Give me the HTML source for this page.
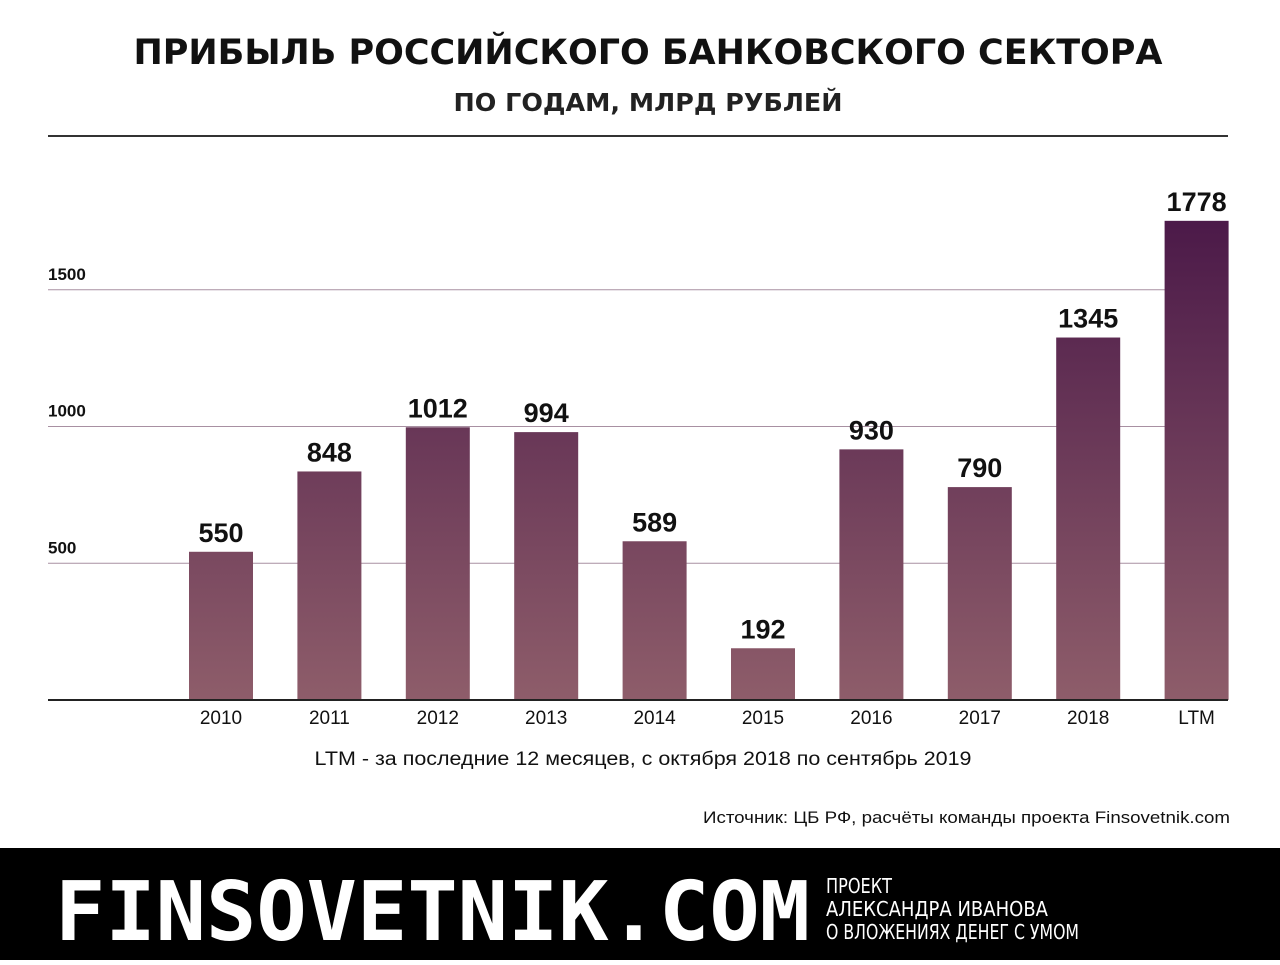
<!DOCTYPE html>
<html><head><meta charset="utf-8"><style>
body{margin:0;width:1280px;height:960px;background:#fff;overflow:hidden;font-family:"Liberation Sans","DejaVu Sans",sans-serif}
</style></head><body>
<svg width="1280" height="960" xmlns="http://www.w3.org/2000/svg">
<defs>
<linearGradient id="g" gradientUnits="userSpaceOnUse" x1="0" y1="210" x2="0" y2="700">
<stop offset="0" stop-color="#4a1848"/><stop offset="1" stop-color="#8e5d6a"/>
</linearGradient>
</defs>
<text x="648" y="64" text-anchor="middle" font-family="DejaVu Sans, sans-serif" font-weight="bold" font-size="35" fill="#111" textLength="1029" lengthAdjust="spacingAndGlyphs">ПРИБЫЛЬ РОССИЙСКОГО БАНКОВСКОГО СЕКТОРА</text>
<text x="648" y="111" text-anchor="middle" font-family="DejaVu Sans, sans-serif" font-weight="bold" font-size="25" fill="#222" textLength="389" lengthAdjust="spacingAndGlyphs">ПО ГОДАМ, МЛРД РУБЛЕЙ</text>
<line x1="48" y1="136" x2="1228" y2="136" stroke="#333" stroke-width="2"/>
<g id="grid"></g>
<g id="bars"></g>
<line x1="48" y1="700" x2="1228" y2="700" stroke="#222" stroke-width="2"/>
<text x="643" y="765" text-anchor="middle" font-size="19" fill="#111" textLength="657" lengthAdjust="spacingAndGlyphs">LTM - за последние 12 месяцев, с октября 2018 по сентябрь 2019</text>
<text x="1230" y="823" text-anchor="end" font-size="17" fill="#111" textLength="527" lengthAdjust="spacingAndGlyphs">Источник: ЦБ РФ, расчёты команды проекта Finsovetnik.com</text>
<rect x="0" y="848" width="1280" height="112" fill="#000"/>
<text x="55" y="940" font-family="DejaVu Sans Mono, monospace" font-weight="bold" font-size="82" fill="#fff" textLength="755" lengthAdjust="spacingAndGlyphs">FINSOVETNIK.COM</text>
<g font-family="DejaVu Sans, sans-serif" font-size="20" fill="#fff">
<text x="826" y="893" textLength="66" lengthAdjust="spacingAndGlyphs">ПРОЕКТ</text>
<text x="826" y="916" textLength="222" lengthAdjust="spacingAndGlyphs">АЛЕКСАНДРА ИВАНОВА</text>
<text x="826" y="939" textLength="253" lengthAdjust="spacingAndGlyphs">О ВЛОЖЕНИЯХ ДЕНЕГ С УМОМ</text>
</g>
</svg>
<script>
const categories=["2010","2011","2012","2013","2014","2015","2016","2017","2018","LTM"];
const values=[550,848,1012,994,589,192,930,790,1345,1778];
const ticks=[500,1000,1500];
const NS="http://www.w3.org/2000/svg";
const y=v=>700-v*0.2735;
const yb=v=>700-v*0.2695;
const xc=i=>221+i*108.4;
const grid=document.getElementById('grid');
ticks.forEach(t=>{
 const l=document.createElementNS(NS,'line');
 
 
 l.setAttribute('x1',48);l.setAttribute('x2',1228);l.setAttribute('y1',y(t));l.setAttribute('y2',y(t));
 l.setAttribute('stroke','#a890a2');l.setAttribute('stroke-width','1');grid.appendChild(l);
 const tx=document.createElementNS(NS,'text');
 
 
 tx.setAttribute('x',48);tx.setAttribute('y',y(t)-10);tx.setAttribute('font-size','17');tx.setAttribute('font-weight','bold');tx.setAttribute('fill','#111');
 tx.textContent=t;grid.appendChild(tx);
});
const bars=document.getElementById('bars');
values.forEach((v,i)=>{
 const r=document.createElementNS(NS,'rect');
 
 
 r.setAttribute('x',xc(i)-32);r.setAttribute('width',64);r.setAttribute('y',yb(v));r.setAttribute('height',700-yb(v));r.setAttribute('fill','url(#g)');
 bars.appendChild(r);
 const lb=document.createElementNS(NS,'text');
 
 
 lb.setAttribute('x',xc(i));lb.setAttribute('y',yb(v)-10);lb.setAttribute('text-anchor','middle');lb.setAttribute('font-size','27');lb.setAttribute('font-weight','bold');lb.setAttribute('fill','#111');
 lb.textContent=v;bars.appendChild(lb);
 const c=document.createElementNS(NS,'text');
 
 
 c.setAttribute('x',xc(i));c.setAttribute('y',724);c.setAttribute('text-anchor','middle');c.setAttribute('font-size','19');c.setAttribute('fill','#111');
 c.textContent=categories[i];bars.appendChild(c);
});
</script>
</body></html>
